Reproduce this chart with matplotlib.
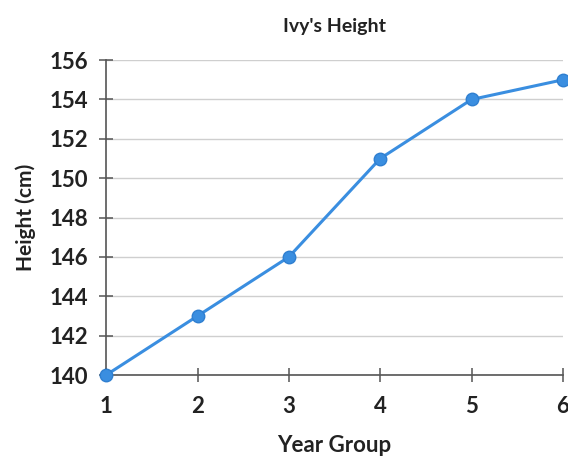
import matplotlib
matplotlib.use("Agg")
import matplotlib.pyplot as plt

# Ivy's height by year group
year_group = [1, 2, 3, 4, 5, 6]
height_cm = [140, 143, 146, 151, 154, 155]
y_ticks = [140, 142, 144, 146, 148, 150, 152, 154, 156]

plt.rcParams['font.family'] = ['Lato', 'DejaVu Sans']

fig = plt.figure(figsize=(5.68, 4.59), dpi=100)
ax = fig.add_axes([0.187, 0.183, 0.804, 0.686])

ax.plot(year_group, height_cm, color='#3a8ee0', lw=2.2, marker='o',
        markersize=9, markerfacecolor='#3a8ee0', markeredgecolor='#2f7fd0',
        clip_on=False, zorder=3)

ax.set_xlim(1, 6)
ax.set_ylim(140, 156)
ax.set_xticks(year_group)
ax.set_yticks(y_ticks)
ax.grid(axis='y', color='#cfcfcf', lw=1.0)

for s in ['top', 'right']:
    ax.spines[s].set_visible(False)
for s in ['left', 'bottom']:
    ax.spines[s].set_color('#555555')
    ax.spines[s].set_linewidth(1.2)

ax.tick_params(direction='inout', length=10, width=1.1, color='#555555',
               labelsize=16, labelcolor='#222222')
ax.tick_params(axis='x', pad=10)
ax.tick_params(axis='y', pad=8)
for lab in ax.get_xticklabels() + ax.get_yticklabels():
    lab.set_fontweight('bold')

ax.set_title("Ivy's Height", fontsize=14, fontweight='bold', color='#222222', pad=20)
ax.set_xlabel('Year Group', fontsize=16, fontweight='bold', color='#222222', labelpad=13)
ax.set_ylabel('Height (cm)', fontsize=15, fontweight='bold', color='#222222', labelpad=10)

fig.savefig('out.png', dpi=100)
